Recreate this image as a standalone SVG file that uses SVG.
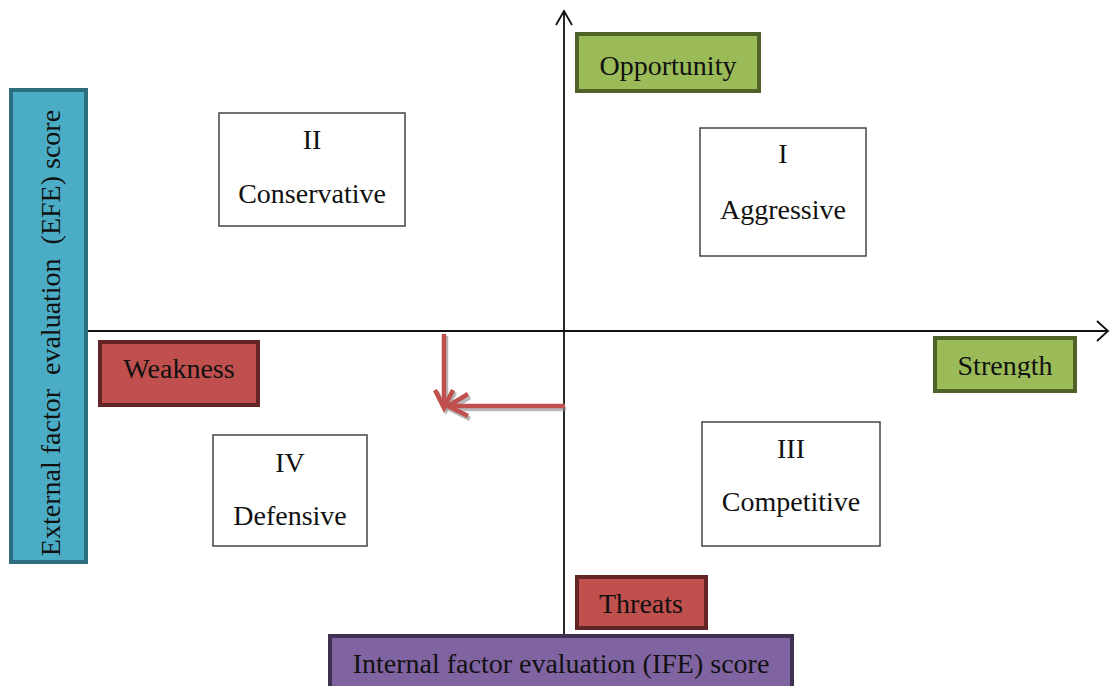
<svg xmlns="http://www.w3.org/2000/svg" width="1110" height="686" viewBox="0 0 1110 686">
<style>
text{font-family:"Liberation Serif","Times New Roman",serif;font-size:28px;fill:#111;text-anchor:middle}
.wb{fill:#fff;stroke:#444;stroke-width:1.5}
.g{fill:#9bbb59;stroke:#4f6228;stroke-width:4}
.r{fill:#c0504d;stroke:#632523;stroke-width:4}
.p{fill:#8064a2;stroke:#3f3151;stroke-width:4}
.b{fill:#4bacc6;stroke:#2c6e80;stroke-width:4}
.ax{fill:none;stroke:#111;stroke-width:1.8}
.ra{fill:none;stroke:#c0504d;stroke-width:4.5;stroke-linecap:butt}
.rs{fill:none;stroke:#888;stroke-width:4.5;opacity:0.6}
</style>
<defs>
<clipPath id="clipS"><rect x="930" y="330" width="150" height="48"/></clipPath>
</defs>
<g id="connectors">
<line class="ax" x1="86" y1="331" x2="1107" y2="331"/>
<polyline class="ax" points="1097,321 1108,331 1097,341"/>
<line class="ax" x1="564" y1="11" x2="564" y2="634"/>
<polyline class="ax" points="556,25 564,11 572,25"/>
<g id="red-arrows">
<path class="rs" d="M446,336 V408 M437,392 L446,410 L455,392"/>
<path class="rs" d="M566,409 H452 M470,397 L450,409 L470,419"/>
<path class="ra" d="M444,334 V406 M435,390 L444,408 L453,390"/>
<path class="ra" d="M565,406 H450 M468,394 L448,406 L468,416"/>
</g>
</g>
<g id="efe">
<rect class="b" x="11" y="90" width="75" height="472"/>
<text xml:space="preserve" transform="translate(60,333) rotate(-90)" font-size="29">External factor  evaluation  (EFE) score</text>
</g>
<g id="ife">
<rect class="p" x="330" y="636" width="462" height="70"/>
<text x="561" y="673">Internal factor evaluation (IFE) score</text>
</g>
<g id="opportunity">
<rect class="g" x="577" y="34" width="182" height="57"/>
<text x="668" y="75">Opportunity</text>
</g>
<g id="strength">
<rect class="g" x="935" y="338" width="140" height="53"/>
<text x="1005" y="375" clip-path="url(#clipS)">Strength</text>
</g>
<g id="weakness">
<rect class="r" x="100" y="342" width="158" height="63"/>
<text x="179" y="378">Weakness</text>
</g>
<g id="threats">
<rect class="r" x="577" y="577" width="129" height="51"/>
<text x="641" y="613">Threats</text>
</g>
<g id="q2">
<rect class="wb" x="219" y="113" width="186" height="113"/>
<text x="312" y="149">II</text>
<text x="312" y="203">Conservative</text>
</g>
<g id="q1">
<rect class="wb" x="700" y="128" width="166" height="128"/>
<text x="783" y="163">I</text>
<text x="783" y="219">Aggressive</text>
</g>
<g id="q4">
<rect class="wb" x="213" y="435" width="154" height="111"/>
<text x="290" y="472">IV</text>
<text x="290" y="525">Defensive</text>
</g>
<g id="q3">
<rect class="wb" x="702" y="422" width="178" height="124"/>
<text x="791" y="458">III</text>
<text x="791" y="511">Competitive</text>
</g>
</svg>
